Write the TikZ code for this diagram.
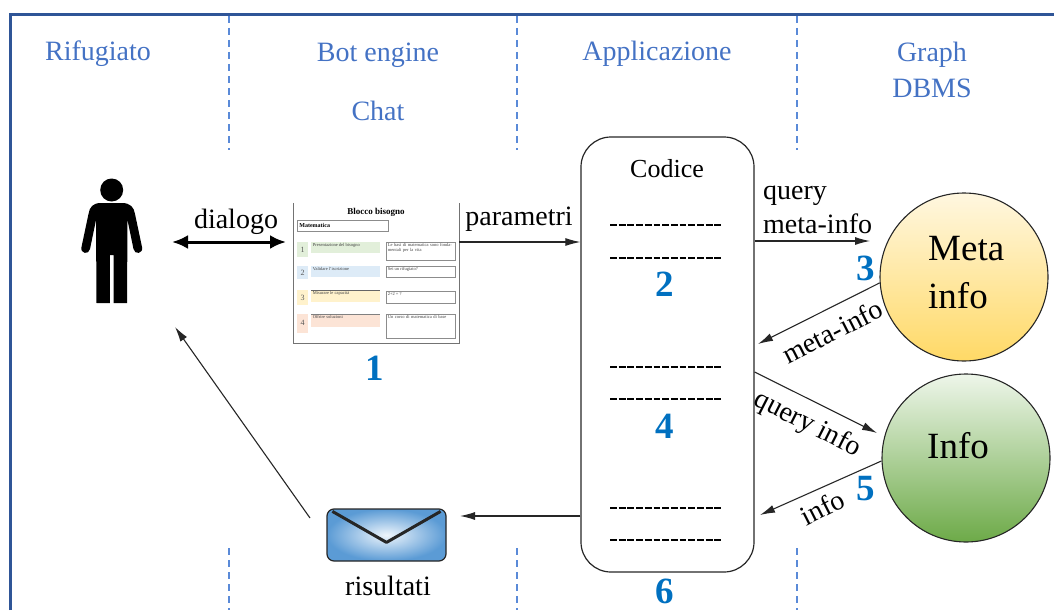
\documentclass[tikz,border=0pt]{standalone}
\usepackage{fontspec}
\setmainfont{Liberation Serif}
\usetikzlibrary{arrows.meta,calc}

\definecolor{frameblue}{HTML}{2F5597}
\definecolor{titleblue}{HTML}{4472C4}
\definecolor{sepblue}{HTML}{5A8AD8}
\definecolor{stepblue}{HTML}{0070C0}
\definecolor{metatop}{HTML}{FFF7E0}
\definecolor{metabot}{HTML}{FFD966}
\definecolor{infotop}{HTML}{EEF6EA}
\definecolor{infobot}{HTML}{6DAA48}
\definecolor{envlight}{HTML}{EEF5FC}
\definecolor{envdark}{HTML}{5B9BD5}
\definecolor{rowgreen}{HTML}{E2EFDA}
\definecolor{rowblue}{HTML}{DDEBF7}
\definecolor{rowyellow}{HTML}{FFF2CC}
\definecolor{rowpink}{HTML}{FCE4D6}

\begin{document}
\begin{tikzpicture}[x=1pt,y=-1pt,
  title/.style={text=titleblue, font=\fontsize{28}{35}\selectfont, inner sep=0pt, anchor=base},
  lbl/.style={font=\fontsize{28}{32}\selectfont, inner sep=0pt},
  bigtxt/.style={font=\fontsize{37}{46}\selectfont, inner sep=0pt, anchor=base west},
  stepnum/.style={text=stepblue, font=\fontsize{37}{37}\selectfont\bfseries, inner sep=0pt, anchor=base},
  arr/.style={draw=black!85, line width=1.1pt, -{Latex[length=15pt,width=8pt]}},
  sep/.style={draw=sepblue, line width=1.2pt, dash pattern=on 7pt off 5pt},
  codeline/.style={line width=2.2pt, dash pattern=on 6.8pt off 1.9pt},
  smalltxt/.style={font=\fontsize{4.5}{5}\selectfont, inner sep=0.6pt, align=left, anchor=north west, text=black!75},
  cellnum/.style={font=\fontsize{8}{8}\selectfont, text=black!65, inner sep=0pt},
  field/.style={draw=black!45, line width=0.7pt}
]
\useasboundingbox (0,0) rectangle (1054,610);

% outer frame
\draw[frameblue, line width=3pt] (10,610) -- (10,14.5) -- (1054,14.5);

% lane separators
\foreach \x in {229,517,797} {
  \draw[sep] (\x,16) -- (\x,150);
  \draw[sep] (\x,548) -- (\x,610);
}

% lane titles
\node[title] (tRif) at (98,60) {Rifugiato};
\node[title] (tBot) at (378,62) {Bot engine};
\node[title] (tChat) at (378,120) {Chat};
\node[title] (tApp) at (657,60) {Applicazione};
\node[title] (tGraph) at (932,62) {Graph};
\node[title] (tDbms) at (932,97) {DBMS};

% person
\fill[black] (111.7,190) circle (11.5);
\fill[black] (101,203) -- (122,203)
  .. controls (130,203) and (134,207) .. (135,214)
  -- (142,247) .. controls (143.5,254) and (134.5,255) .. (133.5,249)
  -- (127.5,220) -- (127,303) -- (113.6,303) -- (113.6,255) -- (109.8,255)
  -- (109.8,303) -- (96.5,303) -- (96,220)
  -- (90,249) .. controls (89,255) and (80,254) .. (81.5,247)
  -- (88.5,214) .. controls (89.5,207) and (93,203) .. (101,203) -- cycle;
\coordinate (person) at (111.7,245);

% chat form
\node[minimum width=165, minimum height=140, inner sep=0pt] (form) at (376.5,273) {};
\draw[black!55, line width=0.8pt] (form.north west) -- (form.south west) -- (form.south east) -- (form.north east);
\node[font=\fontsize{9}{9}\selectfont\bfseries, inner sep=0pt] (formtitle) at (376,212) {Blocco bisogno};
\node[field, anchor=north west, minimum width=91, minimum height=11, inner sep=1pt,
      font=\fontsize{6}{6}\selectfont\bfseries, text width=87, align=left] (subject) at (297,220) {Matematica};

% row 1
\fill[rowgreen] (297,242) rectangle (308,257);
\node[cellnum] (n1) at (302.5,250) {1};
\fill[rowgreen] (311,242) rectangle (380,253);
\node[smalltxt] (l1) at (312,243) {Presentazione del bisogno};
\draw[field] (386,242) rectangle (455,260);
\node[smalltxt, text width=66] (r1) at (387,243) {Le basi di matematica sono fondamentali per la vita};
% row 2
\fill[rowblue] (297,266) rectangle (308,279);
\node[cellnum] (n2) at (302.5,273) {2};
\fill[rowblue] (311,266) rectangle (380,277);
\node[smalltxt] (l2) at (312,267) {Validare l'iscrizione};
\draw[field] (386,266) rectangle (455,277);
\node[smalltxt] (r2) at (387,267) {Sei un rifugiato?};
% row 3
\fill[rowyellow] (297,290) rectangle (308,305);
\node[cellnum] (n3) at (302.5,298) {3};
\fill[rowyellow] (311,290) rectangle (380,302);
\draw[black!60, line width=0.8pt] (311,290) -- (380,290);
\node[smalltxt] (l3) at (312,291) {Misurare le capacità};
\draw[field] (386,291) rectangle (455,303);
\node[smalltxt] (r3) at (387,292) {2+2 = ?};
% row 4
\fill[rowpink] (297,314) rectangle (308,333);
\node[cellnum] (n4) at (302.5,323) {4};
\fill[rowpink] (311,314) rectangle (380,327);
\draw[black!50, line width=0.8pt] (311,314) -- (380,314);
\node[smalltxt] (l4) at (312,315) {Offrire soluzioni};
\draw[field] (386,314) rectangle (455,338);
\node[smalltxt, text width=66] (r4) at (387,315) {Un corso di matematica di base};

% application code block
\node[draw=black!85, line width=1.2pt, rounded corners=30pt, minimum width=173, minimum height=435, inner sep=0pt] (code) at (667.5,354.5) {};
\node[lbl, font=\fontsize{26}{30}\selectfont, anchor=base] (codice) at (667,177) {Codice};
\foreach \y in {225,258,367,399,508,540} {
  \draw[codeline] (610,\y) -- (723,\y);
}

% graph databases
\node[circle, draw=black!85, line width=1.1pt, minimum size=168, inner sep=0pt,
      top color=metatop, bottom color=metabot] (meta) at (964,277) {};
\node[bigtxt] (metaA) at (928,260) {Meta};
\node[bigtxt] (metaB) at (928,308) {info};
\node[circle, draw=black!85, line width=1.1pt, minimum size=168, inner sep=0pt,
      top color=infotop, bottom color=infobot] (info) at (966,458) {};
\node[bigtxt] (infoA) at (927,458) {Info};

% envelope
\node[draw=black!85, line width=1.2pt, rounded corners=7pt, minimum width=119, minimum height=52, inner sep=0pt,
      inner color=envlight, outer color=envdark] (env) at (386.5,535) {};
\draw[line width=3pt, black!85, line join=round]
  ($(env.north west)+(6,3)$) -- ($(env.north)+(0,34)$) -- ($(env.north east)+(-6,3)$);
\node[lbl, anchor=base] (risultati) at (388,595) {risultati};

% connector end points
\coordinate (dlgL) at (172,242);
\coordinate (dlgR) at (286,242);
\coordinate (parIn) at (459,242);
\coordinate (qmEnd) at (870,241);
\coordinate (miEnd) at (758,344);
\coordinate (qiStart) at (755,372);
\coordinate (qiEnd) at (877,433);
\coordinate (infEnd) at (760,515);
\coordinate (envEnd) at (460,516);
\coordinate (backStart) at (310,518);
\coordinate (backEnd) at (175,327);

% connectors
\draw[line width=3pt, {Latex[length=16pt,width=14pt]}-{Latex[length=16pt,width=14pt]}] (dlgL) -- (dlgR);
\node[lbl, anchor=base] (dialogo) at (236,228) {dialogo};

\draw[arr] (parIn) -- (code.west |- parIn);
\node[lbl, anchor=base] (parametri) at (519,225) {parametri};

\draw[arr] (code.east |- qmEnd) -- (qmEnd);
\node[lbl, anchor=base west] (qmA) at (763,199) {query};
\node[lbl, anchor=base west] (qmB) at (763,233) {meta-info};

\draw[arr] (meta.184) -- (miEnd);
\node[lbl, rotate=27] (miLbl) at (832.5,331.5) {meta-info};

\draw[arr] (code.east |- qiStart) -- (qiEnd);
\node[lbl, rotate=-27] (qiLbl) at (807.5,424.5) {query info};

\draw[arr] (info.182) -- (infEnd);
\node[lbl, rotate=27] (infLbl) at (822.5,507.5) {info};

\draw[arr] (code.west |- envEnd) -- (envEnd);
\draw[arr] (backStart) -- (backEnd);

% step numbers
\node[stepnum] (s1) at (375,380) {1};
\node[stepnum] (s2) at (665,296) {2};
\node[stepnum] (s3) at (866,280) {3};
\node[stepnum] (s4) at (665,438) {4};
\node[stepnum] (s5) at (866,500) {5};
\node[stepnum] (s6) at (665,603) {6};
\end{tikzpicture}
\end{document}
